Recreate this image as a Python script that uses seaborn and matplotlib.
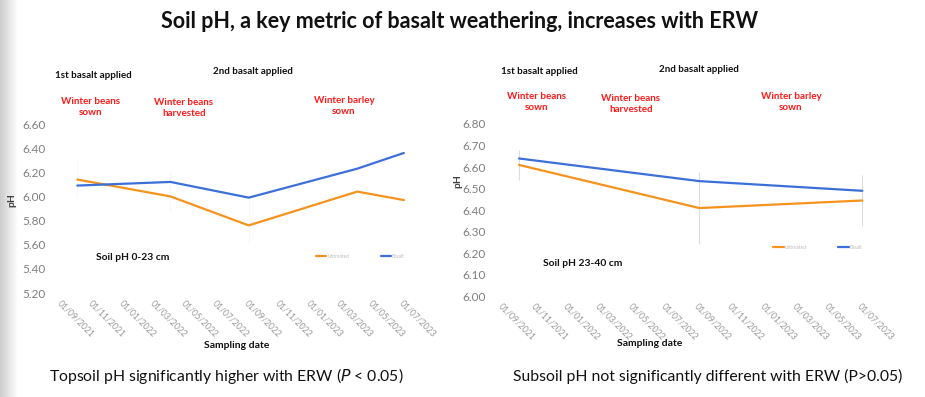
import matplotlib
matplotlib.use("Agg")
import matplotlib.pyplot as plt
import matplotlib.dates as mdates
import numpy as np
import pandas as pd
import seaborn as sns

# ---------------- data ----------------
top_dates = ["2021-10-01", "2022-04-01", "2022-09-01", "2023-04-01", "2023-07-01"]
top_untreated = [6.14, 6.00, 5.76, 6.04, 5.97]
top_basalt = [6.09, 6.12, 5.99, 6.23, 6.36]
top_err_dates = ["2021-10-01", "2022-04-01", "2022-09-01"]
top_err_vals = [6.15, 6.05, 5.82]
top_err = [0.15, 0.17, 0.21]

sub_dates = ["2021-10-01", "2022-09-01", "2023-07-01"]
sub_untreated = [6.61, 6.41, 6.445]
sub_basalt = [6.64, 6.535, 6.49]
sub_err = [0.07, 0.165, 0.12]

series_names = ["Untreated", "Basalt"]
top_yticks = [5.20, 5.40, 5.60, 5.80, 6.00, 6.20, 6.40, 6.60]
sub_yticks = [6.00, 6.10, 6.20, 6.30, 6.40, 6.50, 6.60, 6.70, 6.80]
x_range = ["2021-08-08", "2023-08-01"]

title = "Soil pH, a key metric of basalt weathering, increases with ERW"
# --------------------------------------

sns.set_theme(style="white")
plt.rcParams["font.family"] = ["Lato", "DejaVu Sans"]

W, H = 925, 397
fig = plt.figure(figsize=(W / 100, H / 100), dpi=100)
fig.patch.set_facecolor("white")

def px(x, y):
    return x / W, 1 - y / H

# faint slide shadow at left edge
gax = fig.add_axes([0, 0, 18 / W, 1])
grad = np.linspace(0.80, 1.0, 64)[None, :]
gax.imshow(grad, aspect="auto", cmap="gray", vmin=0, vmax=1, extent=[0, 1, 0, 1])
gax.axis("off")

ORANGE = "#F5931E"
BLUE = "#3D6FD8"
palette = {"Untreated": ORANGE, "Basalt": BLUE}

def make_df(dates, unt, bas):
    d = pd.to_datetime(dates)
    return pd.DataFrame({
        "date": list(d) + list(d),
        "pH": list(unt) + list(bas),
        "treatment": [series_names[0]] * len(d) + [series_names[1]] * len(d),
    })

def style_axis(ax, yticks, ylim):
    ax.set_xlim(pd.to_datetime(x_range[0]), pd.to_datetime(x_range[1]))
    ax.set_ylim(*ylim)
    ax.set_yticks(yticks)
    ax.set_yticklabels([f"{v:.2f}" for v in yticks], color="#7f7f7f", fontsize=8.5)
    ax.xaxis.set_major_locator(mdates.MonthLocator(bymonth=[1, 3, 5, 7, 9, 11]))
    ax.xaxis.set_major_formatter(mdates.DateFormatter("%d/%m/%Y"))
    for lab in ax.get_xticklabels():
        lab.set_rotation(-45)
        lab.set_ha("left")
        lab.set_va("top")
        lab.set_rotation_mode("anchor")
        lab.set_fontsize(6.2)
        lab.set_color("#9a9a9a")
    ax.tick_params(axis="both", length=0)
    ax.tick_params(axis="x", pad=4)
    ax.tick_params(axis="y", pad=3)
    for s in ax.spines.values():
        s.set_visible(False)
    ax.set_facecolor("none")
    ax.set_xlabel("")
    ax.set_ylabel("")

# ---- left: topsoil ----
ax1 = fig.add_axes([49.7 / W, (H - 293) / H, 370 / W, 169 / H])
eb = ax1.errorbar(pd.to_datetime(top_err_dates), top_err_vals, yerr=top_err, fmt="none",
                  ecolor="#ececec", elinewidth=0.7, capsize=0)
for lc in eb.lines[2]:
    lc.set_linestyle(":")
df1 = make_df(top_dates, top_untreated, top_basalt)
sns.lineplot(data=df1, x="date", y="pH", hue="treatment", palette=palette,
             linewidth=1.6, ax=ax1, legend=True)
h1, l1 = ax1.get_legend_handles_labels()
ax1.get_legend().remove()
style_axis(ax1, top_yticks, (5.20, 6.60))
fig.legend(h1, l1, loc="center left", bbox_to_anchor=px(316, 256), ncol=2,
           fontsize=3.5, frameon=False, handlelength=2.1, handletextpad=0.2,
           columnspacing=6.5, borderpad=0, borderaxespad=0, labelcolor="#bdbdbd")

# ---- right: subsoil ----
ax2 = fig.add_axes([490 / W, (H - 296.4) / H, 389 / W, 172.4 / H])
ax2.errorbar(pd.to_datetime(sub_dates), sub_untreated, yerr=sub_err, fmt="none",
             ecolor="#dcdcdc", elinewidth=0.8, capsize=0)
df2 = make_df(sub_dates, sub_untreated, sub_basalt)
sns.lineplot(data=df2, x="date", y="pH", hue="treatment", palette=palette,
             linewidth=1.6, ax=ax2, legend=True)
h2, l2 = ax2.get_legend_handles_labels()
ax2.get_legend().remove()
style_axis(ax2, sub_yticks, (6.00, 6.80))
fig.legend(h2, l2, loc="center left", bbox_to_anchor=px(773, 247), ncol=2,
           fontsize=3.5, frameon=False, handlelength=2.2, handletextpad=0.2,
           columnspacing=6.5, borderpad=0, borderaxespad=0, labelcolor="#bdbdbd")

# ---- text ----
fig.text(*px(460, 22), title, ha="center", va="center", fontsize=15.5,
         fontweight="bold", color="#111111")

def t(x, y, s, size=7.1, color="#111111", weight="bold", **kw):
    fig.text(*px(x, y), s, ha="center", va="center", fontsize=size,
             fontweight=weight, color=color, linespacing=1.25, **kw)

RED = "#FF1A1A"
# left panel annotations
t(93, 75, "1st basalt applied")
t(253, 72, "2nd basalt applied")
t(91, 107, "Winter beans\nsown", color=RED)
t(184, 108, "Winter beans\nharvested", color=RED)
t(344, 106, "Winter barley\nsown", color=RED)
t(133, 257, "Soil pH 0-23 cm", size=7.4)
t(237, 345, "Sampling date", size=7.5)
t(12, 200, "pH", size=7.5, color="#404040", rotation=90)

# right panel annotations
t(539, 71, "1st basalt applied")
t(699, 69, "2nd basalt applied")
t(537, 102, "Winter beans\nsown", color=RED)
t(631, 104, "Winter beans\nharvested", color=RED)
t(791, 102, "Winter barley\nsown", color=RED)
t(583, 264, "Soil pH 23-40 cm", size=7.4)
t(650, 343, "Sampling date", size=7.5)
t(458, 181, "pH", size=7.5, color="#404040", rotation=90)

# captions
fig.text(*px(226, 376), "Topsoil pH significantly higher with ERW ($\\mathit{P}$ < 0.05)",
         ha="center", va="center", fontsize=11.3, color="#111111")
fig.text(*px(708, 376), "Subsoil pH not significantly different with ERW (P>0.05)",
         ha="center", va="center", fontsize=11.3, color="#111111")

fig.savefig("out.png", dpi=100, facecolor="white")
